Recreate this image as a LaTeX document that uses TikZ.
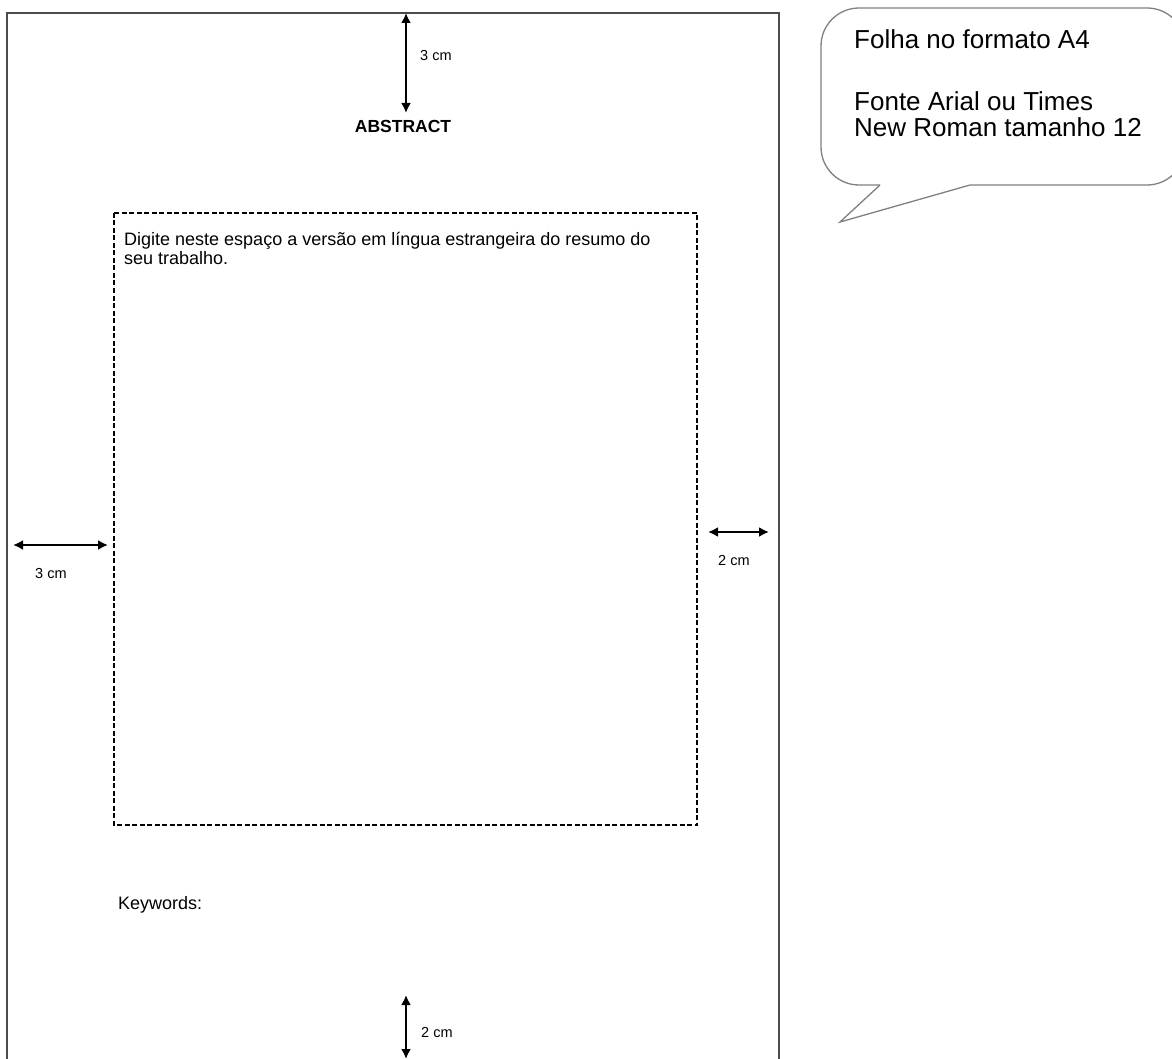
\documentclass[tikz,border=0pt]{standalone}
\usepackage{fontspec}
\setmainfont{Liberation Sans}
\usetikzlibrary{arrows.meta}
\tikzset{
  page/.style={line width=1.5pt, draw=black!70},
  areabox/.style={line width=1.9pt, dash pattern=on 5pt off 2.5pt},
  dimarrow/.style={line width=2.4pt, {Latex[length=10pt,width=10pt]}-{Latex[length=10pt,width=10pt]}},
  callout/.style={line width=1.3pt, draw=black!50},
  lbl/.style={inner sep=0pt, anchor=base west, font=\fontsize{14.5}{16}\selectfont},
  body/.style={inner sep=0pt, anchor=base west, font=\fontsize{18}{19}\selectfont},
  big/.style={inner sep=0pt, anchor=base west, font=\fontsize{26}{28}\selectfont}
}
\begin{document}
\begin{tikzpicture}[x=1pt,y=-1pt]
\useasboundingbox (0,0) rectangle (1172,1059);
\clip (0,0) rectangle (1172,1059);
\fill[white] (0,0) rectangle (1172,1059);
% page
\draw[page] (7,1075) -- (7,13) -- (779,13) -- (779,1075);
% text area
\draw[areabox] (114,213) rectangle (697,825);
% title
\node[inner sep=0pt, anchor=base, font=\bfseries\fontsize{17.5}{20}\selectfont] (title) at (403,133) {ABSTRACT};
% dimension arrows
\coordinate (t1) at (406,13);  \coordinate (t2) at (406,113);
\coordinate (l1) at (13,545);  \coordinate (l2) at (108,545);
\coordinate (r1) at (708,532); \coordinate (r2) at (769,532);
\coordinate (b1) at (406,995); \coordinate (b2) at (406,1059);
\draw[dimarrow] (t1) -- (t2);
\draw[dimarrow] (l1) -- (l2);
\draw[dimarrow] (r1) -- (r2);
\draw[dimarrow] (b1) -- (b2);
\node[lbl] (lt) at (420,61) {3 cm};
\node[lbl] (ll) at (35,578) {3 cm};
\node[lbl] (lr) at (718,565) {2 cm};
\node[lbl] (lb) at (421,1037) {2 cm};
% body text
\node[body] (dig1) at (124,246) {Digite neste espaço a versão em língua estrangeira do resumo do};
\node[body] (dig2) at (124,265) {seu trabalho.};
\node[body] (kw) at (118,909) {Keywords:};
% callout
\draw[callout] (970,185) [rounded corners=38pt] -- (1185,185) -- (1185,8) -- (821,8) -- (821,185) -- (880,185);
\draw[callout] (880,185) -- (840,222) -- (970,185);
\node[big] (c1) at (854,49) {Folha no formato A4};
\node[big] (c2) at (854,111) {Fonte Arial ou Times};
\node[big] (c3) at (854,137) {New Roman tamanho 12};
\end{tikzpicture}
\end{document}
